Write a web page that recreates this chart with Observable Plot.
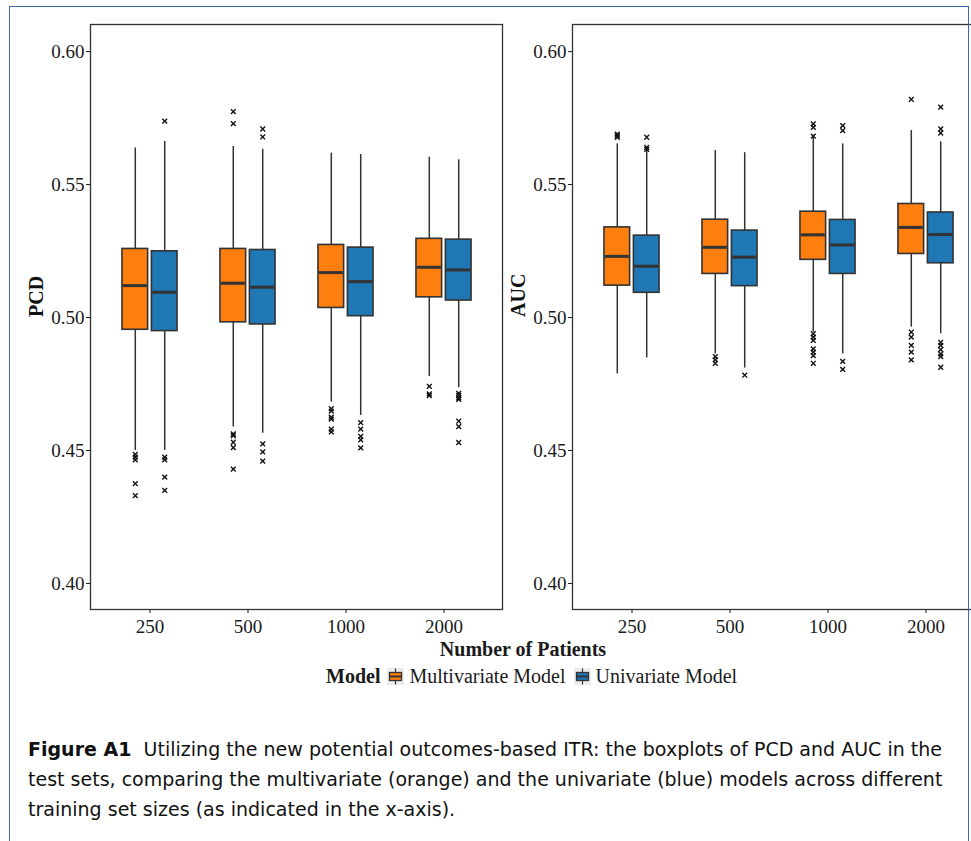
<!DOCTYPE html>
<html><head><meta charset="utf-8">
<script src="https://cdn.jsdelivr.net/npm/d3@7"></script>
<script src="https://cdn.jsdelivr.net/npm/@observablehq/plot@0.6"></script>
<style>
html,body{margin:0;padding:0;background:#fff;overflow:hidden;width:971px;height:841px;}
#page{position:relative;width:971px;height:841px;overflow:hidden;font-family:"Liberation Serif",serif;color:#1a1a1a;background:#fff;}
#border{position:absolute;left:9px;top:6px;width:960px;height:900px;border:1px solid #3f6aa8;border-bottom:none;box-sizing:border-box;z-index:5;pointer-events:none;}
.panel{position:absolute;top:0;width:505px;height:645px;}
.panel svg{max-width:none !important;}
#xtitle{position:absolute;left:323px;width:400px;top:638px;line-height:22px;text-align:center;font-weight:bold;font-size:20px;}
#legend{position:absolute;left:326px;top:665px;height:22px;display:flex;align-items:center;font-size:20px;white-space:nowrap;}
#legend .key{display:block;}
#caption{position:absolute;left:28px;top:734px;font-family:"DejaVu Sans",sans-serif;font-size:17px;line-height:30px;color:#111;}
#caption div{white-space:nowrap;}
</style></head>
<body><div id="page">
<div id="left" class="panel" style="left:0px"></div>
<div id="right" class="panel" style="left:482px"></div>
<div id="xtitle">Number of Patients</div>
<div id="legend"></div>
<div id="caption">
<div id="cap1"><b>Figure A1</b>&nbsp; Utilizing the new potential outcomes-based ITR: the boxplots of PCD and AUC in the</div>
<div id="cap2">test sets, comparing the multivariate (orange) and the univariate (blue) models across different</div>
<div id="cap3">training set sizes (as indicated in the x-axis).</div>
</div>
<div id="border"></div>
</div>
<script>
// ---- data ----
const patients = ["250", "500", "1000", "2000"];
const models = ["Multivariate Model", "Univariate Model"];
const colors = ["#ff7f0e", "#1f77b4"];
const yTicks = [0.40, 0.45, 0.50, 0.55, 0.60];
const legendTitle = "Model";

// [lower whisker, Q1, median, Q3, upper whisker] per patient count
const pcdMulti = [
  [0.4500, 0.4954, 0.5120, 0.5258, 0.5638],
  [0.4588, 0.4982, 0.5129, 0.5258, 0.5643],
  [0.4682, 0.5036, 0.5169, 0.5273, 0.5618],
  [0.4778, 0.5076, 0.5189, 0.5296, 0.5603]
];
const pcdUni = [
  [0.4500, 0.4949, 0.5095, 0.5249, 0.5662],
  [0.4565, 0.4974, 0.5114, 0.5254, 0.5633],
  [0.4632, 0.5005, 0.5135, 0.5263, 0.5613],
  [0.4736, 0.5064, 0.5179, 0.5293, 0.5593]
];
const pcdMultiOut = [
  [0.4485, 0.4475, 0.4465, 0.4375, 0.4330],
  [0.5774, 0.5729, 0.4562, 0.4556, 0.4531, 0.4511, 0.4430],
  [0.4657, 0.4648, 0.4625, 0.4618, 0.4580, 0.4570],
  [0.4741, 0.4713, 0.4706]
];
const pcdUniOut = [
  [0.5739, 0.4475, 0.4465, 0.4400, 0.4350],
  [0.5709, 0.5679, 0.4525, 0.4495, 0.4460],
  [0.4605, 0.4580, 0.4553, 0.4540, 0.4510],
  [0.4715, 0.4707, 0.4698, 0.4692, 0.4610, 0.4590, 0.4530]
];
const aucMulti = [
  [0.4788, 0.5120, 0.5230, 0.5339, 0.5653],
  [0.4863, 0.5164, 0.5264, 0.5368, 0.5628],
  [0.4945, 0.5217, 0.5311, 0.5398, 0.5678],
  [0.4964, 0.5239, 0.5339, 0.5427, 0.5703]
];
const aucUni = [
  [0.4848, 0.5093, 0.5193, 0.5308, 0.5628],
  [0.4810, 0.5118, 0.5227, 0.5327, 0.5620],
  [0.4863, 0.5164, 0.5273, 0.5367, 0.5653],
  [0.4939, 0.5204, 0.5312, 0.5395, 0.5661]
];
const aucMultiOut = [
  [0.5690, 0.5684, 0.5678],
  [0.4853, 0.4841, 0.4828],
  [0.5728, 0.5715, 0.5682, 0.4939, 0.4926, 0.4914, 0.4882, 0.4870, 0.4857, 0.4828],
  [0.5820, 0.4945, 0.4926, 0.4895, 0.4870, 0.4841]
];
const aucUniOut = [
  [0.5678, 0.5640, 0.5632],
  [0.4783],
  [0.5722, 0.5703, 0.4835, 0.4805],
  [0.5791, 0.5709, 0.5694, 0.4907, 0.4895, 0.4879, 0.4863, 0.4853, 0.4813]
];

// ---- tables ----
function buildStats(multi, uni) {
  const rows = [];
  [multi, uni].forEach((arr, m) => arr.forEach((s, i) => rows.push({
    patients: patients[i], model: models[m], lo: s[0], q1: s[1], med: s[2], q3: s[3], hi: s[4]
  })));
  return rows;
}
function buildOut(multi, uni) {
  const rows = [];
  [multi, uni].forEach((arr, m) => arr.forEach((vals, i) => vals.forEach(v => rows.push({
    patients: patients[i], model: models[m], value: v
  }))));
  return rows;
}

// ---- layout ----
const W = 505, H = 645, mL = 90, mR = 3, mT = 24, mB = 36;
const padIn = 0.4, padOut = 0.3;
const step = (W - mL - mR) / (patients.length - padIn + 2 * padOut);
const bw = step * (1 - padIn);
const dodge = 0.15 * step, boxW = 0.26 * step;
const ink = "#333333";

function panel(stats, outs, title) {
  const marks = [];
  models.forEach((m, k) => {
    const off = (k === 0 ? -1 : 1) * dodge;
    const inL = bw / 2 + off - boxW / 2, inR = bw / 2 - off - boxW / 2;
    const s = stats.filter(d => d.model === m);
    const o = outs.filter(d => d.model === m);
    marks.push(
      Plot.ruleX(s, {x: "patients", y1: "lo", y2: "hi", dx: off, stroke: ink, strokeWidth: 1.5}),
      Plot.barY(s, {x: "patients", y1: "q1", y2: "q3", fill: colors[k], stroke: ink, strokeWidth: 1.6, insetLeft: inL, insetRight: inR}),
      Plot.tickY(s, {x: "patients", y: "med", stroke: ink, strokeWidth: 3, insetLeft: inL + 0.8, insetRight: inR + 0.8}),
      Plot.dot(o, {x: "patients", y: "value", dx: off, symbol: "times", r: 2.3, fill: "none", stroke: "#111", strokeWidth: 1.4})
    );
  });
  marks.push(Plot.frame({stroke: ink, strokeWidth: 1.3}));
  marks.push(Plot.text([title], {frameAnchor: "left", text: d => d, rotate: -90, dx: -54, fontWeight: "bold", fontSize: 20, fill: "#111"}));
  return Plot.plot({
    width: W, height: H, marginLeft: mL, marginRight: mR, marginTop: mT, marginBottom: mB,
    x: {type: "band", domain: patients, paddingInner: padIn, paddingOuter: padOut, align: 0.5, tickSize: 4, tickPadding: 6, label: null},
    y: {domain: [0.3902, 0.6102], ticks: yTicks, tickFormat: d => d.toFixed(2), tickSize: 4, tickPadding: 2, label: null},
    style: {fontFamily: "Liberation Serif", fontSize: "19px", color: "#1a1a1a", background: "transparent", overflow: "visible", maxWidth: "none"},
    marks
  });
}

document.getElementById("left").appendChild(panel(buildStats(pcdMulti, pcdUni), buildOut(pcdMultiOut, pcdUniOut), "PCD"));
document.getElementById("right").appendChild(panel(buildStats(aucMulti, aucUni), buildOut(aucMultiOut, aucUniOut), "AUC"));

// ---- legend ----
function keySvg(color) {
  const ns = "http://www.w3.org/2000/svg";
  const svg = document.createElementNS(ns, "svg");
  svg.setAttribute("width", 17); svg.setAttribute("height", 17); svg.setAttribute("class", "key");
  svg.innerHTML = `<rect width="17" height="17" fill="#ebebeb"/>
    <line x1="8.5" x2="8.5" y1="0.5" y2="16.5" stroke="${ink}" stroke-width="1.2"/>
    <rect x="2.5" y="4.5" width="12" height="8" fill="${color}" stroke="${ink}" stroke-width="1.3"/>
    <line x1="2.5" x2="14.5" y1="8.5" y2="8.5" stroke="${ink}" stroke-width="2"/>`;
  return svg;
}
const leg = document.getElementById("legend");
const lt = document.createElement("b"); lt.textContent = legendTitle; lt.style.marginRight = "7px"; leg.appendChild(lt);
models.forEach((m, k) => {
  const ks = keySvg(colors[k]); ks.style.marginRight = "5px"; leg.appendChild(ks);
  const sp = document.createElement("span"); sp.textContent = m; sp.style.marginRight = "8px"; leg.appendChild(sp);
});

// ---- caption width fit (scale font size so line 1 spans the reference width) ----
function fit() {
  const c1 = document.getElementById("cap1");
  const cap = document.getElementById("caption");
  cap.style.fontSize = "17px";
  cap.style.letterSpacing = "0px";
  const r = document.createRange(); r.selectNodeContents(c1);
  const w = r.getBoundingClientRect().width;
  const fs = Math.min(19, Math.max(15, 17 * 914 / w));
  cap.style.fontSize = fs.toFixed(2) + "px";
  const w2 = r.getBoundingClientRect().width;
  cap.style.letterSpacing = ((914 - w2) / c1.textContent.length).toFixed(3) + "px";
}
fit();
if (document.fonts && document.fonts.ready) document.fonts.ready.then(fit);
</script>
</body></html>
